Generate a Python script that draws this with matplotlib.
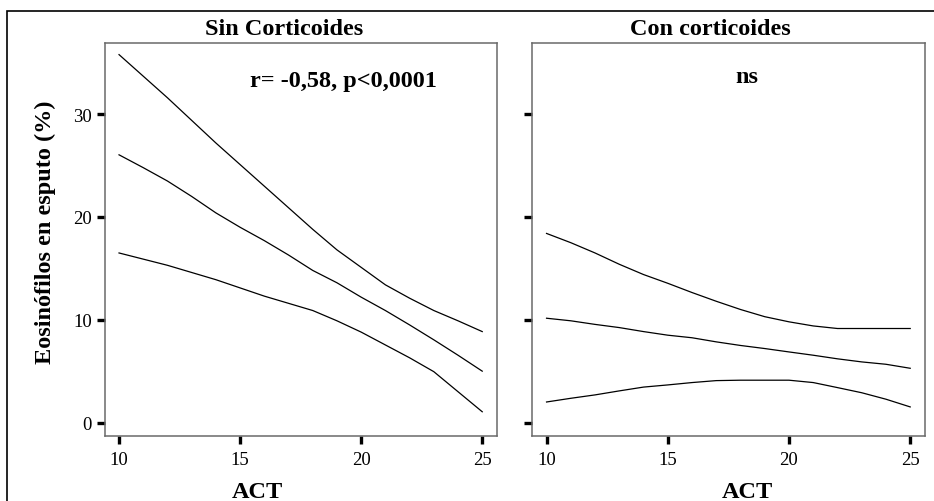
import matplotlib
matplotlib.use('Agg')
import matplotlib.pyplot as plt
from matplotlib.patches import Rectangle

plt.rcParams['font.family'] = ['Liberation Serif', 'DejaVu Serif']

# ACT score (x) and fitted line with confidence bands (y = % eosinophils in sputum)
act = [10, 11, 12, 13, 14, 15, 16, 17, 18, 19, 20, 21, 22, 23, 24, 25]

sin_upper = [35.8, 33.7, 31.6, 29.4, 27.2, 25.1, 23.0, 20.9, 18.8, 16.8, 15.1, 13.4, 12.1, 10.9, 9.9, 8.85]
sin_mean = [26.05, 24.8, 23.5, 22.0, 20.4, 19.0, 17.7, 16.3, 14.8, 13.6, 12.2, 10.9, 9.5, 8.05, 6.55, 5.0]
sin_lower = [16.5, 15.9, 15.3, 14.6, 13.9, 13.1, 12.3, 11.6, 10.9, 9.9, 8.8, 7.55, 6.3, 4.95, 3.0, 1.05]

con_upper = [18.4, 17.5, 16.5, 15.4, 14.4, 13.55, 12.65, 11.8, 11.0, 10.3, 9.8, 9.4, 9.15, 9.15, 9.15, 9.15]
con_mean = [10.15, 9.9, 9.55, 9.24, 8.85, 8.5, 8.25, 7.85, 7.5, 7.2, 6.87, 6.55, 6.2, 5.9, 5.67, 5.28]
con_lower = [2.0, 2.36, 2.69, 3.08, 3.45, 3.66, 3.89, 4.08, 4.12, 4.12, 4.12, 3.89, 3.4, 2.9, 2.27, 1.52]

titles = ['Sin Corticoides', 'Con corticoides']
notes = ['r= -0,58, p<0,0001', 'ns']
yticks = [0, 10, 20, 30]
xticks = [10, 15, 20, 25]

W, H = 934, 502
fig = plt.figure(figsize=(W / 100, H / 100), dpi=100)


def fx(px):
    return px / W


def fy(py):
    return 1 - py / H


# outer frame (only left and top edges visible in the original)
fig.patches.append(Rectangle((fx(7), -0.1), 1.2, fy(11.5) + 0.1, transform=fig.transFigure,
                             fill=False, edgecolor='black', linewidth=1.2))

ax1 = fig.add_axes([fx(104.5), fy(436.7), fx(392.5), 392.4 / H])
ax2 = fig.add_axes([fx(532), fy(436.7), fx(393), 392.4 / H])

panels = [(ax1, sin_upper, sin_mean, sin_lower), (ax2, con_upper, con_mean, con_lower)]
for ax, up, mid, lo in panels:
    for s in (up, mid, lo):
        ax.plot(act, s, color='black', linewidth=0.9)
    ax.set_xlim(9.40, 25.61)
    ax.set_ylim(-1.28, 36.9)
    ax.set_xticks(xticks)
    ax.set_yticks(yticks)
    for sp in ax.spines.values():
        sp.set_color('#6a6a6a')
        sp.set_linewidth(1.1)
    ax.tick_params(direction='out', length=6, width=2.4, color='black',
                   labelsize=13.5, pad=3)
    ax.tick_params(axis='x', pad=5)

ax2.tick_params(axis='y', labelleft=False)

# titles, notes and axis labels
bold = dict(fontsize=17.5, fontweight='bold')
fig.text(fx(284), fy(35), titles[0], ha='center', va='baseline', **bold)
fig.text(fx(710), fy(35), titles[1], ha='center', va='baseline', **bold)
fig.text(fx(343), fy(86.7), notes[0], ha='center', va='baseline', **bold)
fig.text(fx(747), fy(83.3), notes[1], ha='center', va='baseline', **bold)
fig.text(fx(257), fy(498), 'ACT', ha='center', va='baseline', **bold)
fig.text(fx(747), fy(498), 'ACT', ha='center', va='baseline', **bold)
fig.text(fx(45), fy(232), 'Eosinófilos en esputo (%)', ha='center', va='center',
         rotation=90, **bold)

plt.savefig('out.png', dpi=100)
